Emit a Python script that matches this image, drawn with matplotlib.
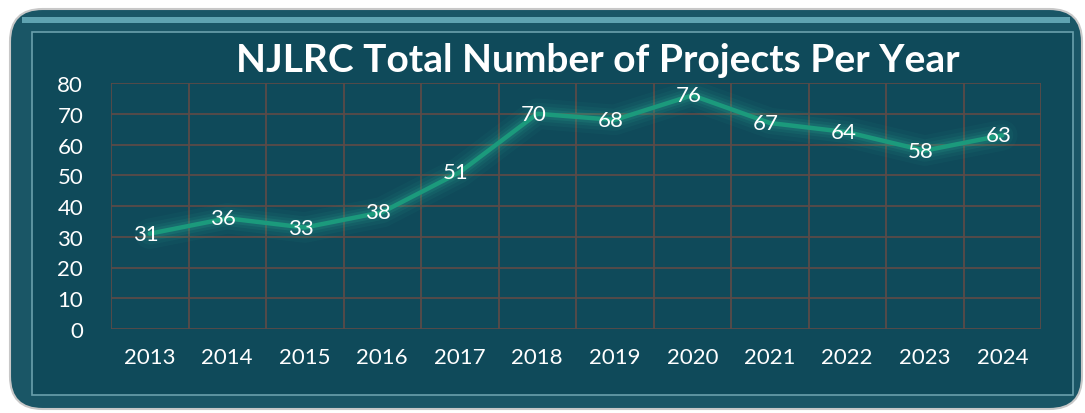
import matplotlib.pyplot as plt
from matplotlib.patches import FancyBboxPatch, Rectangle

years = ['2013', '2014', '2015', '2016', '2017', '2018', '2019', '2020', '2021', '2022', '2023', '2024']
projects = [31, 36, 33, 38, 51, 70, 68, 76, 67, 64, 58, 63]
y_ticks = [0, 10, 20, 30, 40, 50, 60, 70, 80]

bg = '#0f4a5a'
grid_col = '#5a4a48'
line_col = '#1b9a7c'
W, H = 1085, 414

fig = plt.figure(figsize=(W / 100, H / 100), dpi=100)
fig.patch.set_facecolor('white')

# outer frame and inner panel (pixel coords -> figure fraction)
def fx(px):
    return px / W

def fy(py):
    return 1 - py / H

outer = FancyBboxPatch((fx(10), fy(410)), fx(1072), 400 / H,
                       boxstyle='round,pad=0,rounding_size=0.03',
                       transform=fig.transFigure, facecolor='#1a5666',
                       edgecolor='#c8c8c8', linewidth=1.5, mutation_aspect=W / H, zorder=-3)
fig.patches.append(outer)
fig.patches.append(Rectangle((fx(22), fy(24)), fx(1048), 6 / H, transform=fig.transFigure,
                             facecolor='#5fa3b1', edgecolor='none', zorder=-2))
fig.patches.append(Rectangle((fx(32), fy(396)), fx(1041), 363 / H, transform=fig.transFigure,
                             facecolor=bg, edgecolor='#6aa0ac', linewidth=1.2, zorder=-1))

ax = fig.add_axes([fx(111), fy(330), fx(1041 - 111), (330 - 84) / H])
ax.patch.set_alpha(0)

x = list(range(len(years)))
ax.set_xlim(-0.5, len(years) - 0.5)
ax.set_ylim(0, 80)

# grid
for v in y_ticks:
    ax.axhline(v, color=grid_col, lw=1.3, zorder=1)
for i in range(len(years) + 1):
    ax.axvline(i - 0.5, color=grid_col, lw=1.3, zorder=1)

# glow then line
for lw, a in [(22, 0.05), (16, 0.07), (11, 0.1), (7, 0.15)]:
    ax.plot(x, projects, color='#2fb596', lw=lw, alpha=a, solid_capstyle='round', zorder=2)
ax.plot(x, projects, color=line_col, lw=3.2, solid_capstyle='round', zorder=3)

for xi, v in zip(x, projects):
    ax.text(xi - 0.05, v, str(v), ha='center', va='center', color='white',
            fontsize=16, family='Lato', zorder=4)

ax.set_xticks(x)
ax.set_xticklabels(years)
ax.set_yticks(y_ticks)
ax.tick_params(colors='white', labelsize=16, length=0, pad=13)
ax.tick_params(axis='y', pad=20)
for lab in ax.get_xticklabels() + ax.get_yticklabels():
    lab.set_family('Lato')
for s in ax.spines.values():
    s.set_visible(False)

fig.text(fx(598), fy(60), 'NJLRC Total Number of Projects Per Year', ha='center', va='center',
         color='white', fontsize=28, fontweight='bold', family='Lato')

fig.savefig('out.png', dpi=100, facecolor='white')
